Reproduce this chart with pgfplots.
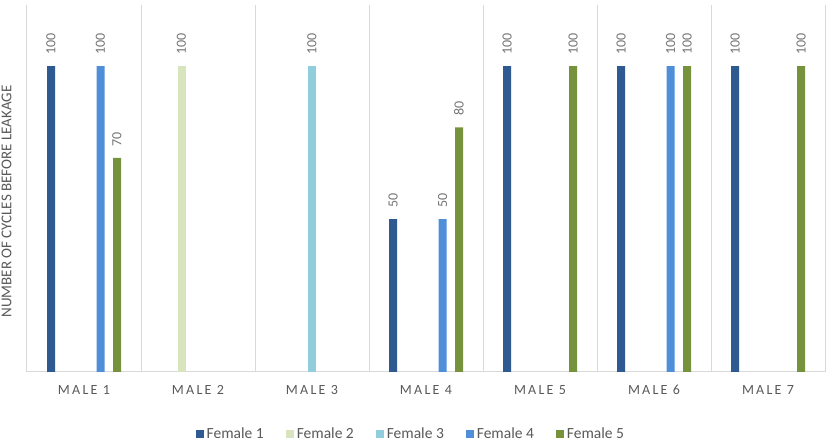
\documentclass[border=0pt]{standalone}
\usepackage{pgfplots}
\pgfplotsset{compat=1.18}
\usepackage{fontspec}
\setmainfont{Carlito}
\newfontfamily\spaced[LetterSpace=16]{Carlito}
\definecolor{cF1}{HTML}{2F5A91}
\definecolor{cF2}{HTML}{D7E4BD}
\definecolor{cF3}{HTML}{92CDDC}
\definecolor{cF4}{HTML}{4F8FDA}
\definecolor{cF5}{HTML}{76923C}
\definecolor{txt}{HTML}{595959}
\definecolor{vtxt}{HTML}{757575}
\definecolor{grd}{HTML}{D9D9D9}
\begin{document}
\begin{tikzpicture}
\begin{axis}[
  scale only axis,
  width=798pt, height=367pt,
  xmin=-0.5, xmax=6.5, ymin=0, ymax=120,
  ybar=8.5pt, bar width=8pt,
  /pgf/number format/assume math mode=true,
  xtick={0,1,2,3,4,5,6},
  xticklabels={MALE 1,MALE 2,MALE 3,MALE 4,MALE 5,MALE 6,MALE 7},
  x tick label style={font=\spaced\fontsize{14}{16}\selectfont, text=txt, anchor=base, yshift=-23pt},
  major tick length=0pt,
  minor xtick={-0.5,0.5,1.5,2.5,3.5,4.5,5.5,6.5},
  xminorgrids, minor grid style={grd, line width=1pt},
  minor tick length=0pt,
  ytick=\empty,
  axis x line*=bottom,
  axis y line*=left,
  x axis line style={grd, line width=1pt},
  y axis line style={draw=none},
  ylabel={NUMBER OF CYCLES BEFORE LEAKAGE},
  ylabel style={at={(axis description cs:-0.015,0.465)}, anchor=south, font=\fontsize{15}{17}\selectfont, text=txt},
  nodes near coords,
  nodes near coords style={rotate=90, anchor=west, font=\fontsize{14}{16}\selectfont, text=vtxt, xshift=8pt},
  legend style={draw=none, at={(0.481,-0.169)}, anchor=center, legend columns=5, font=\fontsize{15.5}{17}\selectfont, text=txt,
    /tikz/every even column/.append style={column sep=20pt},
    /tikz/every odd column/.append style={column sep=1pt}},
  legend image code/.code={\fill[#1,draw=none] (0pt,-4pt) rectangle (8pt,4pt);},
]
\addplot[fill=cF1, draw=none] coordinates {(0,100) (3,50) (4,100) (5,100) (6,100)};
\addplot[fill=cF2, draw=none] coordinates {(1,100)};
\addplot[fill=cF3, draw=none] coordinates {(2,100)};
\addplot[fill=cF4, draw=none] coordinates {(0,100) (3,50) (5,100)};
\addplot[fill=cF5, draw=none] coordinates {(0,70) (3,80) (4,100) (5,100) (6,100)};
\legend{Female 1, Female 2, Female 3, Female 4, Female 5}
\end{axis}
\pgfresetboundingbox
\useasboundingbox ([xshift=-27pt,yshift=-69pt]current axis.south west) rectangle ([xshift=4pt,yshift=5pt]current axis.north east);
\end{tikzpicture}
\end{document}
